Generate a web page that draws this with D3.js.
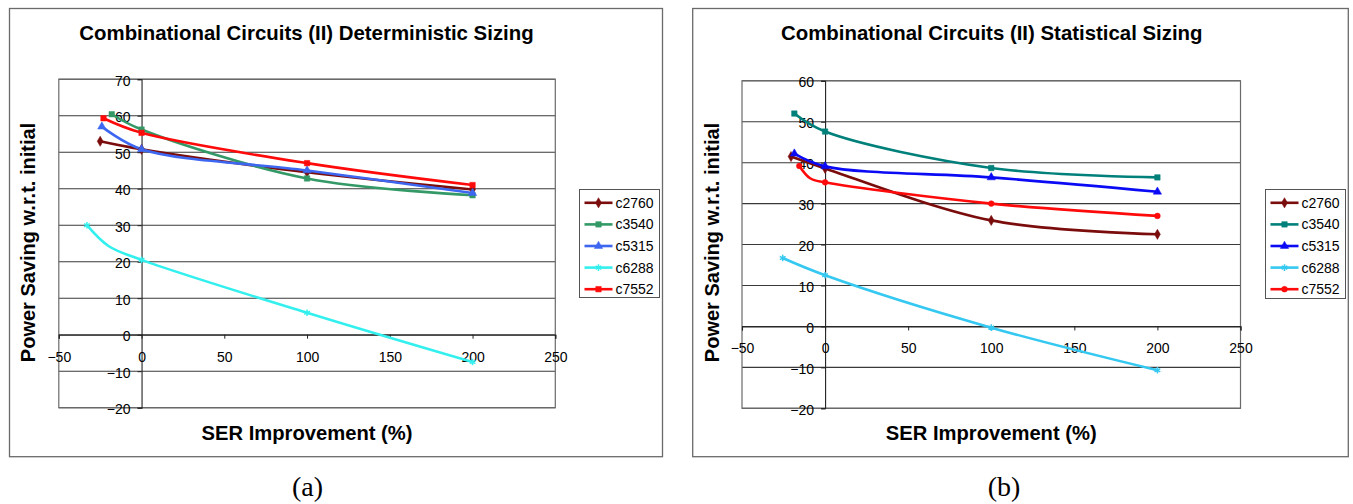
<!DOCTYPE html>
<html>
<head>
<meta charset="utf-8">
<script src="https://cdn.jsdelivr.net/npm/d3@7"></script>
<style>
  html, body { margin: 0; padding: 0; background: #fff; }
  svg { display: block; }
  text { font-family: "Liberation Sans", Arial, sans-serif; fill: #000; }
</style>
</head>
<body>
<svg id="chart" width="1353" height="504"></svg>
<script>
// ---------------- DATA ----------------
const seriesNames = ["c2760", "c3540", "c5315", "c6288", "c7552"];
const xTickValues = [-50, 0, 50, 100, 150, 200, 250];
const detYTickValues = [-20, -10, 0, 10, 20, 30, 40, 50, 60, 70];
const statYTickValues = [-20, -10, 0, 10, 20, 30, 40, 50, 60];

// (a) Deterministic sizing: [SER improvement %, power saving %]
const detC2760 = [[-25, 53], [0, 50.8], [100, 44.5], [200, 39.8]];
const detC3540 = [[-18, 60.4], [0, 56.2], [100, 42.8], [200, 38.2]];
const detC5315 = [[-24, 57], [0, 50.8], [100, 45], [200, 38.8]];
const detC6288 = [[-33, 30], [-20, 24.3], [0, 20.5], [100, 6], [200, -7.5]];
const detC7552 = [[-23, 59.3], [0, 55.3], [100, 47], [200, 41]];

// (b) Statistical sizing
const statC2760 = [[-20.5, 41.5], [0, 38.6], [100, 25.9], [200, 22.5]];
const statC3540 = [[-18.5, 52], [0, 47.6], [100, 38.7], [200, 36.4]];
const statC5315 = [[-18.5, 42.2], [0, 39.1], [100, 36.4], [200, 32.9]];
const statC6288 = [[-25.5, 16.7], [0, 12.5], [100, -0.3], [200, -10.7]];
const statC7552 = [[-15.5, 39.2], [-9, 36.2], [0, 35.2], [100, 30], [200, 27]];

// ---------------- LAYOUT / STYLE ----------------
const panels = [
  {
    title: "Combinational Circuits (II) Deterministic Sizing",
    caption: "(a)", captionX: 307.5,
    box: { x: 9.5, y: 8.5, w: 653, h: 448.2 },
    plot: { l: 58.8, r: 555.3, t: 79.2, b: 407.7 },
    yDomain: [-20, 70], yTicks: detYTickValues,
    titleX: 306.5, yTitleX: 35,
    legend: { x: 579.5, y: 189.5, w: 80, h: 108 },
    series: [detC2760, detC3540, detC5315, detC6288, detC7552],
    colors: ["#7b0c0c", "#339966", "#3d67f0", "#33f0ee", "#ff0a0a"],
    markers: ["diamond", "square", "triangle", "star", "square"]
  },
  {
    title: "Combinational Circuits (II) Statistical Sizing",
    caption: "(b)", captionX: 1004,
    box: { x: 692.7, y: 8.5, w: 655.6, h: 448.2 },
    plot: { l: 742, r: 1240.5, t: 80.8, b: 408.3 },
    yDomain: [-20, 60], yTicks: statYTickValues,
    titleX: 991.8, yTitleX: 719,
    legend: { x: 1265.5, y: 189.5, w: 80, h: 109 },
    series: [statC2760, statC3540, statC5315, statC6288, statC7552],
    colors: ["#7b0c0c", "#00807a", "#0a0af5", "#35c8f0", "#ff0a0a"],
    markers: ["diamond", "square", "triangle", "star", "circle"]
  }
];

const svg = d3.select("#chart");

function drawMarker(g, type, x, y, color) {
  let sym, size;
  if (type === "diamond") { sym = d3.symbolDiamond; size = 30; }
  else if (type === "square") { sym = d3.symbolSquare; size = 30; }
  else if (type === "triangle") { sym = d3.symbolTriangle; size = 30; }
  else if (type === "circle") { sym = d3.symbolCircle; size = 26; }
  else { sym = d3.symbolAsterisk; size = 30; }
  const p = g.append("path")
    .attr("d", d3.symbol().type(sym).size(size)())
    .attr("transform", `translate(${x},${y})`);
  if (type === "star") {
    p.attr("fill", "none").attr("stroke", color).attr("stroke-width", 1.5);
  } else {
    p.attr("fill", color).attr("stroke", color).attr("stroke-width", 0.5);
  }
}

panels.forEach(P => {
  const g = svg.append("g");

  // outer chart border
  g.append("rect")
    .attr("x", P.box.x).attr("y", P.box.y)
    .attr("width", P.box.w).attr("height", P.box.h)
    .attr("fill", "#fff").attr("stroke", "#6a6a6a").attr("stroke-width", 1.3);

  const x = d3.scaleLinear().domain([-50, 250]).range([P.plot.l, P.plot.r]);
  const y = d3.scaleLinear().domain(P.yDomain).range([P.plot.b, P.plot.t]);
  const x0 = x(0), y0 = y(0);

  // gridlines
  g.append("g").selectAll("line").data(P.yTicks).join("line")
    .attr("x1", P.plot.l).attr("x2", P.plot.r)
    .attr("y1", d => y(d)).attr("y2", d => y(d))
    .attr("stroke", "#3a3a3a").attr("stroke-width", 1.1);

  // plot frame
  g.append("rect")
    .attr("x", P.plot.l).attr("y", P.plot.t)
    .attr("width", P.plot.r - P.plot.l).attr("height", P.plot.b - P.plot.t)
    .attr("fill", "none").attr("stroke", "#6a6a6a").attr("stroke-width", 1.2);

  // y axis at x = 0
  const yAxis = d3.axisLeft(y).tickValues(P.yTicks).tickSize(4).tickFormat(d3.format("d"));
  const ya = g.append("g").attr("transform", `translate(${x0},0)`).call(yAxis);
  ya.select(".domain").attr("stroke", "#222").attr("stroke-width", 1.1);
  ya.selectAll(".tick line").attr("stroke", "#222");
  ya.selectAll(".tick text")
    .attr("x", -11).attr("dy", "0.42em")
    .style("font-size", "14px").style("font-family", "'Liberation Sans', Arial, sans-serif")
    .attr("fill", "#111");

  // x axis at y = 0
  const xAxis = d3.axisBottom(x).tickValues(xTickValues).tickSize(4).tickFormat(d3.format("d"));
  const xa = g.append("g").attr("transform", `translate(0,${y0})`).call(xAxis);
  xa.select(".domain").attr("stroke", "#222").attr("stroke-width", 1.1);
  xa.selectAll(".tick line").attr("stroke", "#222");
  xa.selectAll(".tick text")
    .attr("y", 27).attr("dy", 0)
    .style("font-size", "14px").style("font-family", "'Liberation Sans', Arial, sans-serif")
    .attr("fill", "#111");

  // series lines
  const line = d3.line()
    .x(d => x(d[0])).y(d => y(d[1]))
    .curve(d3.curveCatmullRom.alpha(0.5));
  P.series.forEach((s, i) => {
    g.append("path").datum(s)
      .attr("d", line)
      .attr("fill", "none")
      .attr("stroke", P.colors[i])
      .attr("stroke-width", 2.6)
      .attr("stroke-linejoin", "round");
  });
  P.series.forEach((s, i) => {
    const ends = [s[0], s.find(d => d[0] === 0), s.find(d => d[0] === 100), s[s.length - 1]];
    ends.forEach(d => drawMarker(g, P.markers[i], x(d[0]), y(d[1]), P.colors[i]));
  });

  // titles
  g.append("text")
    .attr("x", P.titleX).attr("y", 40)
    .attr("text-anchor", "middle")
    .style("font-size", "20.4px").style("font-weight", "bold")
    .text(P.title);

  const midX = (P.plot.l + P.plot.r) / 2;
  g.append("text")
    .attr("x", midX).attr("y", 440)
    .attr("text-anchor", "middle")
    .style("font-size", "20.2px").style("font-weight", "bold")
    .text("SER Improvement (%)");

  g.append("text")
    .attr("transform", `translate(${P.yTitleX},242.5) rotate(-90)`)
    .attr("text-anchor", "middle")
    .style("font-size", "20px").style("font-weight", "bold")
    .text("Power Saving w.r.t. initial");

  // legend
  const L = P.legend;
  g.append("rect")
    .attr("x", L.x).attr("y", L.y).attr("width", L.w).attr("height", L.h)
    .attr("fill", "#fff").attr("stroke", "#555").attr("stroke-width", 1);
  seriesNames.forEach((name, i) => {
    const ly = L.y + 13.3 + i * 21.6;
    g.append("line")
      .attr("x1", L.x + 5).attr("x2", L.x + 33)
      .attr("y1", ly).attr("y2", ly)
      .attr("stroke", P.colors[i]).attr("stroke-width", 2.6);
    drawMarker(g, P.markers[i], L.x + 19, ly, P.colors[i]);
    g.append("text")
      .attr("x", L.x + 36).attr("y", ly + 5)
      .style("font-size", "14px")
      .text(name);
  });

  // caption
  svg.append("text")
    .attr("x", P.captionX).attr("y", 496)
    .attr("text-anchor", "middle")
    .style("font-family", "'Liberation Serif', 'Times New Roman', serif")
    .style("font-size", "28px")
    .text(P.caption);
});
</script>
</body>
</html>
